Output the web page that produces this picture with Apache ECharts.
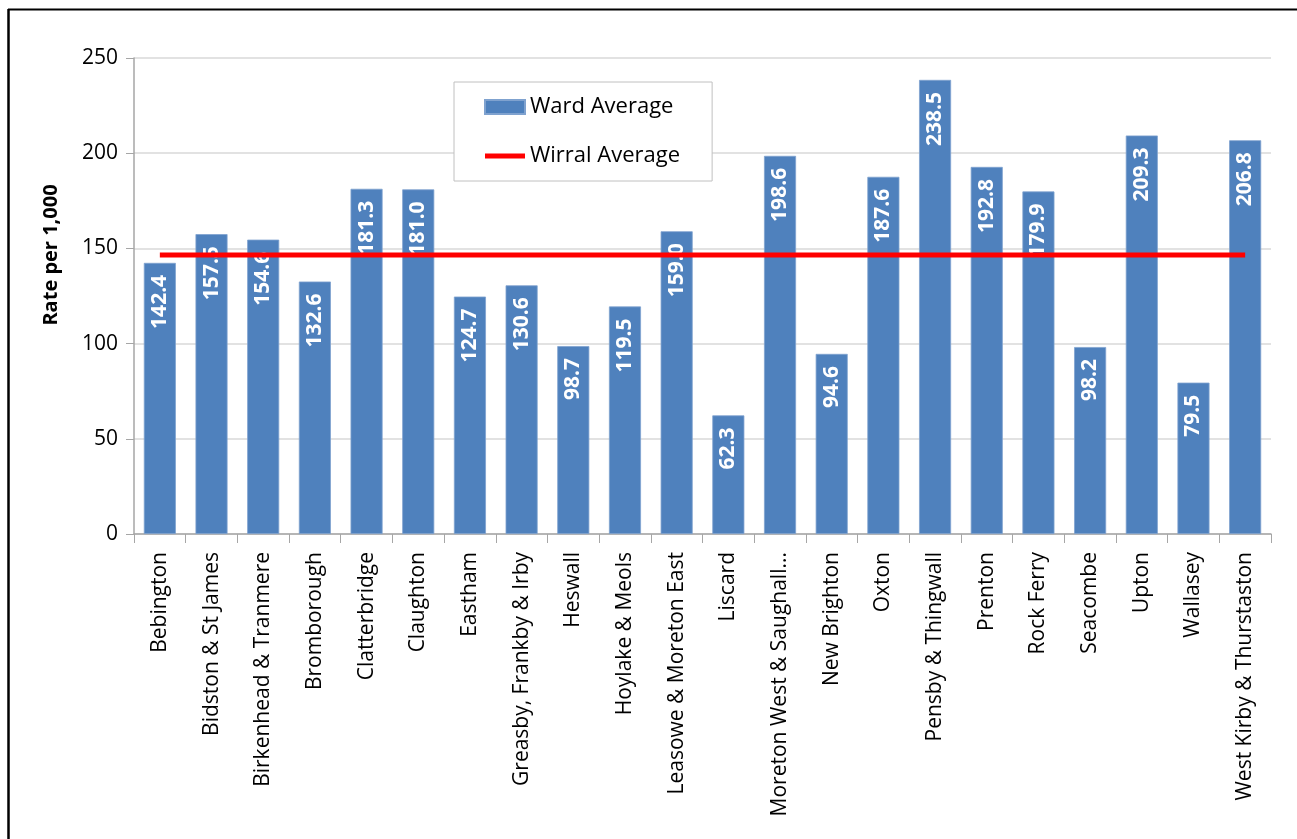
<!DOCTYPE html>
<html>
<head>
<meta charset="utf-8">
<title>Rate per 1,000 by ward</title>
<script src="https://cdn.jsdelivr.net/npm/echarts@6/dist/echarts.min.js"></script>
<style>
  html, body { margin: 0; padding: 0; background: #fff; }
  #chart { width: 1297px; height: 839px; }
</style>
</head>
<body>
<div id="chart"></div>
<script>
// Ward names as shown on the category axis
const wards = [
  'Bebington', 'Bidston & St James', 'Birkenhead & Tranmere', 'Bromborough',
  'Clatterbridge', 'Claughton', 'Eastham', 'Greasby, Frankby & Irby',
  'Heswall', 'Hoylake & Meols', 'Leasowe & Moreton East', 'Liscard',
  'Moreton West & Saughall...', 'New Brighton', 'Oxton', 'Pensby & Thingwall',
  'Prenton', 'Rock Ferry', 'Seacombe', 'Upton', 'Wallasey',
  'West Kirby & Thurstaston'
];

// Rate per 1,000 for each ward
const wardAverage = [
  142.4, 157.5, 154.6, 132.6, 181.3, 181.0, 124.7, 130.6, 98.7, 119.5, 159.0,
  62.3, 198.6, 94.6, 187.6, 238.5, 192.8, 179.9, 98.2, 209.3, 79.5, 206.8
];

// Borough-wide rate, repeated for every ward
const wirralAverage = [
  146.5, 146.5, 146.5, 146.5, 146.5, 146.5, 146.5, 146.5, 146.5, 146.5, 146.5,
  146.5, 146.5, 146.5, 146.5, 146.5, 146.5, 146.5, 146.5, 146.5, 146.5, 146.5
];

// Value axis ticks
const yTicks = { min: 0, max: 250, interval: 50 };

const FONT = '"Open Sans", "Liberation Sans", sans-serif';

// Legend swatch for the average line: a thin bar centred in the icon box
const LINE_ICON = 'path://M0,0 M40,14 M0,4.5 L40,4.5 L40,9.5 L0,9.5 Z';

const chart = echarts.init(document.getElementById('chart'), null, { renderer: 'canvas' });

chart.setOption({
  animation: false,
  backgroundColor: '#ffffff',
  textStyle: { fontFamily: FONT },
  grid: { left: 134, right: 26, top: 58, bottom: 305, containLabel: false },
  legend: {
    orient: 'vertical',
    left: 454,
    top: 82,
    padding: [14, 32, 14, 30],
    itemGap: 27,
    itemWidth: 40,
    itemHeight: 14,
    backgroundColor: '#ffffff',
    borderColor: '#c0c0c0',
    borderWidth: 1,
    borderRadius: 0,
    textStyle: { fontFamily: FONT, fontSize: 22, color: '#000' },
    data: [
      { name: 'Ward Average', icon: 'rect' },
      { name: 'Wirral Average', icon: LINE_ICON }
    ]
  },
  xAxis: {
    type: 'category',
    data: wards,
    boundaryGap: true,
    axisLine: { lineStyle: { color: '#a6a6a6', width: 1.5 } },
    axisTick: { show: true, length: 9, lineStyle: { color: '#a6a6a6' } },
    axisLabel: {
      rotate: 90,
      interval: 0,
      margin: 18,
      fontFamily: FONT,
      fontSize: 21,
      color: '#000'
    },
    splitLine: { show: false }
  },
  yAxis: {
    type: 'value',
    min: yTicks.min,
    max: yTicks.max,
    interval: yTicks.interval,
    axisLine: { show: true, lineStyle: { color: '#a6a6a6', width: 1.5 } },
    axisTick: { show: true, length: 8, lineStyle: { color: '#a6a6a6' } },
    axisLabel: { margin: 16, fontFamily: FONT, fontSize: 21, color: '#000' },
    splitLine: { show: true, lineStyle: { color: '#d9d9d9', width: 1.5 } }
  },
  graphic: [
    // page frame (top and left edges)
    { type: 'line', shape: { x1: 8, y1: 9.5, x2: 1297, y2: 9.5 }, style: { stroke: '#000', lineWidth: 2 }, z: 100 },
    { type: 'line', shape: { x1: 8.5, y1: 9, x2: 8.5, y2: 839 }, style: { stroke: '#000', lineWidth: 2.5 }, z: 100 },
    {
      type: 'text',
      x: 51,
      y: 255,
      rotation: Math.PI / 2,
      style: {
        text: 'Rate per 1,000',
        font: 'bold 20px ' + FONT,
        fill: '#000',
        textAlign: 'center',
        textVerticalAlign: 'middle'
      }
    }
  ],
  series: [
    {
      name: 'Ward Average',
      type: 'bar',
      data: wardAverage,
      barCategoryGap: '38%',
      itemStyle: { color: '#4f81bd', borderColor: '#7fa2cf', borderWidth: 0.8 },
      label: {
        show: true,
        position: 'insideTop',
        distance: 12,
        rotate: 90,
        align: 'right',
        verticalAlign: 'middle',
        fontFamily: FONT,
        fontSize: 21,
        fontWeight: 'bold',
        color: '#ffffff',
        formatter: p => p.value.toFixed(1)
      },
      z: 2
    },
    {
      name: 'Wirral Average',
      type: 'line',
      data: wirralAverage,
      symbol: 'none',
      showSymbol: false,
      lineStyle: { color: '#ff0000', width: 5 },
      itemStyle: { color: '#ff0000' },
      z: 5
    }
  ]
});
</script>
</body>
</html>
